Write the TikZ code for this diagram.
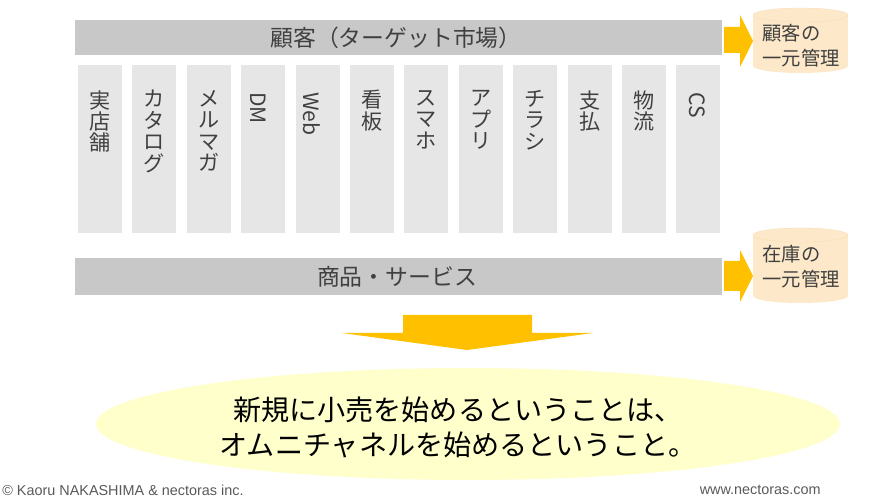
\documentclass[tikz,border=0pt]{standalone}
\usepackage{fontspec}
\setmainfont{Noto Sans CJK JP}
\newfontfamily\footfont{Liberation Sans}
\usetikzlibrary{positioning}

\definecolor{bargray}{HTML}{C8C8C8}
\definecolor{colgray}{HTML}{E6E6E6}
\definecolor{txtgray}{HTML}{404040}
\definecolor{arroworange}{HTML}{FFC000}
\definecolor{dbfill}{HTML}{FDE9C9}
\definecolor{dbline}{HTML}{F6DDB3}
\definecolor{ovalfill}{HTML}{FFFFCC}

\tikzset{
  bartext/.style={font=\fontsize{13}{15}\selectfont,text=txtgray,inner sep=0pt},
  coltext/.style={font=\fontsize{12}{12.2}\selectfont,text=txtgray,align=center,anchor=north,inner sep=0pt},
  latintext/.style={font=\fontsize{12}{12.2}\selectfont,text=txtgray,rotate=-90,anchor=west,inner sep=0pt},
  dbtext/.style={font=\fontsize{11}{14}\selectfont,text=txtgray,align=left,anchor=west,inner sep=0pt},
  foottext/.style={font=\footfont\fontsize{8.2}{9}\selectfont,text=black!65,inner sep=0pt}
}

\begin{document}
\begin{tikzpicture}[x=0.02cm,y=-0.02cm]
\useasboundingbox (0,0) rectangle (871,502);

% bars
\fill[bargray] (75,20) rectangle (722,55);
\node[bartext] (customer) at (396,37.5) {顧客（ターゲット市場）};
\fill[bargray] (75,258) rectangle (722,295);
\node[bartext] (product) at (397,276.5) {商品・サービス};

% channel columns
\foreach \i in {0,...,11}
  \fill[colgray] (78+\i*54.4,65) rectangle (122+\i*54.4,233);

\node[coltext] (store) at (100,90) {実\\店\\舗};
\node[coltext] (catalog) at (154.4,90) {カ\\タ\\ロ\\グ};
\node[coltext] (mailmag) at (208.8,90) {メ\\ル\\マ\\ガ};
\node[latintext] (dm) at (258.5,92) {DM};
\node[latintext] (web) at (311.5,92) {Web};
\node[coltext] (signboard) at (372,90) {看\\板};
\node[coltext] (smartphone) at (426.4,90) {ス\\マ\\ホ};
\node[coltext] (app) at (480.8,90) {ア\\プ\\リ};
\node[coltext] (flyer) at (535.2,90) {チ\\ラ\\シ};
\node[coltext] (payment) at (589.6,90) {支\\払};
\node[coltext] (logistics) at (644,90) {物\\流};
\node[latintext] (cs) at (697.5,92) {CS};

% side arrows
\fill[arroworange] (724,27) -- (740,27) -- (740,15) -- (753,41) -- (740,67) -- (740,53) -- (724,53) -- cycle;
\fill[arroworange] (724,261) -- (740,261) -- (740,250) -- (753,276) -- (740,302) -- (740,291) -- (724,291) -- cycle;

% databases
\fill[dbfill] (753,15) rectangle (848,66);
\fill[dbfill] (800.5,66) ellipse[x radius=47.5,y radius=7];
\filldraw[fill=dbfill,draw=dbline,very thin] (800.5,15) ellipse[x radius=47.5,y radius=7];
\node[dbtext] (custdb) at (762,45.5) {顧客の\\一元管理};

\fill[dbfill] (753,235) rectangle (848,296);
\fill[dbfill] (800.5,296) ellipse[x radius=47.5,y radius=7];
\filldraw[fill=dbfill,draw=dbline,very thin] (800.5,235) ellipse[x radius=47.5,y radius=7];
\node[dbtext] (stockdb) at (762,266.5) {在庫の\\一元管理};

% down arrow
\fill[arroworange] (403,315) -- (532,315) -- (532,333) -- (593,333) -- (467,350) -- (342,333) -- (403,333) -- cycle;

% conclusion
\fill[ovalfill] (468,424) ellipse[x radius=372,y radius=56];
\node[font=\fontsize{16}{19.8}\selectfont,align=center,inner sep=0pt] (message) at (458,427.5)
  {新規に小売を始めるということは、\\オムニチャネルを始めるということ。};

% footer
\node[foottext,anchor=west] (copyright) at (2,490) {© Kaoru NAKASHIMA \& nectoras inc.};
\node[foottext,anchor=east] (website) at (821,490) {www.nectoras.com};
\end{tikzpicture}
\end{document}
